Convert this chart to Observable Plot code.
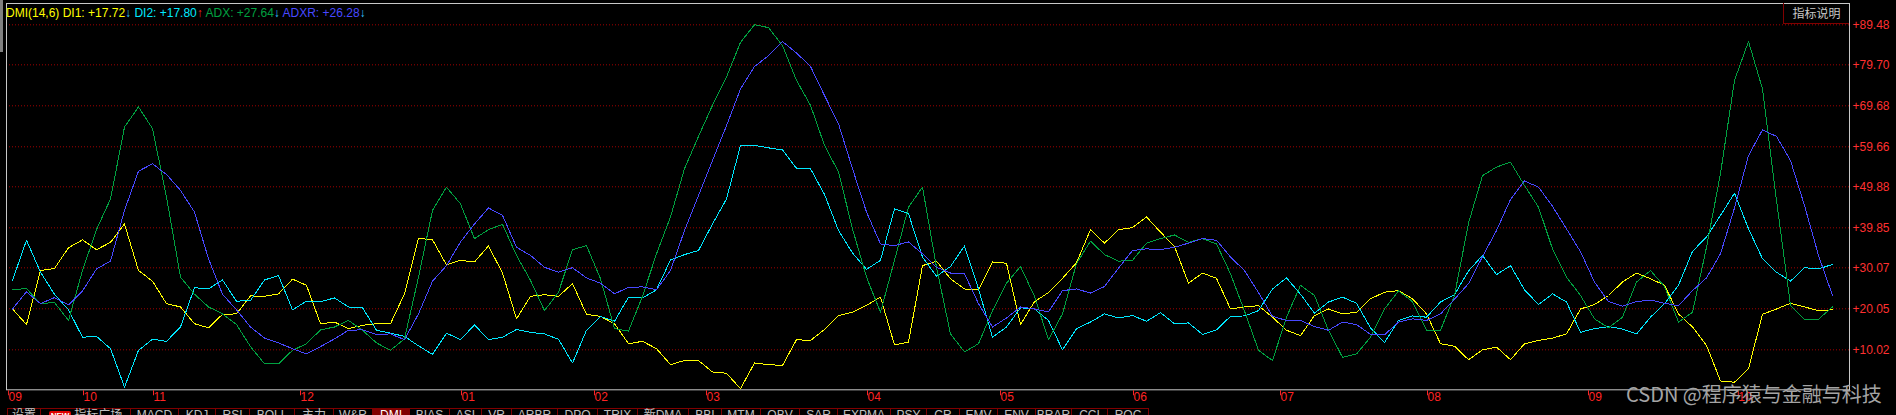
<!DOCTYPE html>
<html><head><meta charset="utf-8">
<script src="https://cdn.jsdelivr.net/npm/d3@7"></script>
<script src="https://cdn.jsdelivr.net/npm/@observablehq/plot@0.6"></script>
<style>
html,body{margin:0;padding:0;background:#000;overflow:hidden;}
#wrap{position:relative;width:1896px;height:415px;overflow:hidden;background:#000;font-family:"Liberation Sans",Arial,sans-serif;}
#chart{position:absolute;left:0;top:0;}
#header{position:absolute;left:6px;top:6px;font-size:12px;line-height:14px;white-space:pre;}
#btn{position:absolute;left:1783px;top:3px;width:65px;height:20px;border-left:1px solid #800000;border-bottom:1px solid #800000;color:#c8c8c8;font:12px/20px "Noto Sans CJK SC",sans-serif;text-align:center;}
#grip{position:absolute;left:0;top:0;width:3px;height:52px;background:#808080;}
#tabs{position:absolute;left:0;top:408px;height:20px;}
.tab{position:absolute;top:0;height:20px;box-sizing:border-box;border-top:1px solid #800000;border-right:1px solid #800000;color:#c0c0c0;font:12px/13px "Liberation Sans","Noto Sans CJK SC",sans-serif;text-align:center;white-space:nowrap;}
.tab.first{border-left:1px solid #800000;}
.tab.sel{background:#800000;color:#ffffff;}
.new{display:inline-block;background:#e00000;color:#fff;font:bold 8px/10px "Liberation Sans",sans-serif;padding:0 2px;border-radius:2px;margin-right:3px;vertical-align:1px;}
#wm{position:absolute;left:1626px;top:383px;font:20px/22px "Noto Sans CJK SC",sans-serif;color:#a4a4a4;white-space:nowrap;}
</style></head>
<body><div id="wrap"><div id="chart"></div><div id="grip"></div><div id="header"></div><div id="btn">指标说明</div><div id="tabs"></div><div id="wm">CSDN @程序猿与金融与科技</div></div>
<script>
// DMI(14,6) series, one value every second trading day
const DI1 = [20.0,16.2,29.4,29.9,35.0,36.9,34.5,36.3,40.8,29.4,26.8,21.3,20.5,16.4,15.4,18.7,18.8,23.2,23.1,23.7,27.3,25.8,16.4,16.8,15.2,16.0,16.4,16.4,23.7,37.3,36.9,30.8,31.9,31.5,35.4,
28.8,17.6,23.1,23.5,23.1,26.2,18.7,18.2,16.4,11.5,12.1,10.3,6.4,7.4,7.4,4.6,4.3,0.5,6.8,6.4,6.2,12.5,12.3,15.0,18.4,19.2,20.9,22.9,11.2,11.9,30.6,31.7,27.4,24.9,24.7,31.5,
31.2,16.2,21.8,24.0,27.5,31.3,39.4,36.1,39.4,39.9,42.5,38.8,35.3,26.3,28.8,27.5,20.0,20.5,20.8,18.0,14.8,13.5,18.4,20.0,18.8,19.2,22.5,24.1,24.5,22.5,18.8,11.5,10.9,7.6,10.0,10.7,
7.6,11.5,12.3,12.9,13.9,20.0,21.1,23.3,26.6,28.8,27.4,25.8,18.8,15.6,11.1,2.4,2.1,5.4,18.7,20.0,21.4,20.5,19.6,19.8];
const DI2 = [27.0,36.8,29.0,23.6,19.8,13.1,13.3,10.3,0.9,9.9,12.6,12.1,15.6,25.2,24.9,27.1,21.9,22.1,27.1,28.2,19.8,21.9,21.8,22.7,20.5,20.3,14.8,14.1,13.3,11.0,8.9,14.1,12.5,16.1,12.5,
13.1,15.0,14.3,13.9,12.6,6.8,14.8,18.2,17.0,22.9,22.7,24.7,32.0,33.3,34.3,40.8,46.9,60.0,60.0,59.4,58.9,54.4,54.3,48.0,39.2,33.7,29.7,31.9,44.5,43.3,32.7,28.0,30.4,35.4,24.9,13.1,
15.6,20.3,20.0,17.2,10.0,15.2,16.8,18.8,17.8,18.4,17.0,19.1,16.4,16.6,13.8,14.9,18.2,18.3,19.6,24.9,27.6,23.6,19.0,21.7,22.9,21.4,15.4,11.8,17.2,18.3,18.0,21.7,23.5,29.3,33.1,28.4,
30.6,24.7,21.1,23.7,21.7,14.3,15.2,15.7,15.1,13.9,18.0,21.3,25.8,34.1,37.6,42.9,48.3,39.6,32.3,29.0,26.8,30.1,29.8,30.9];
const ADX = [24.7,25.0,21.3,21.6,17.2,29.4,39.4,46.9,64.5,69.4,64.1,47.4,27.8,23.6,20.5,18.8,16.2,10.8,6.6,6.6,9.9,11.5,14.9,15.6,17.2,14.8,11.7,9.9,12.7,27.8,44.1,49.8,45.7,37.2,39.4,
40.7,33.1,27.0,19.6,24.1,34.5,35.5,27.4,15.2,14.6,23.1,33.5,42.5,54.3,62.2,69.8,76.7,85.2,89.5,88.8,84.4,75.9,69.8,60.0,53.5,39.6,27.8,19.2,31.9,44.9,49.8,30.2,13.9,9.5,11.5,19.6,
26.3,30.4,23.1,12.5,18.8,31.1,36.6,33.3,31.7,31.9,36.1,37.2,38.1,36.3,37.2,35.9,28.6,19.5,9.9,7.4,18.0,25.8,23.3,14.8,8.2,9.0,13.1,20.0,24.4,21.8,14.8,14.8,23.3,41.0,52.6,54.7,
55.9,50.2,44.9,34.7,27.8,23.3,17.6,15.4,18.0,26.6,29.4,25.5,16.8,19.2,35.1,53.1,75.9,85.4,73.8,46.5,20.9,17.4,17.5,20.5];
const ADXR = [20.0,24.2,21.3,22.8,21.0,24.4,29.8,31.7,44.1,53.7,55.5,52.9,49.0,43.7,32.3,23.6,19.8,15.6,12.9,11.7,10.3,9.0,10.8,12.7,14.8,14.9,13.8,13.9,12.5,18.8,26.8,30.6,36.4,40.8,44.7,
42.9,35.1,33.1,30.2,29.0,30.1,27.6,26.3,23.7,25.3,25.4,24.7,29.4,39.2,47.7,56.3,64.8,73.8,79.3,81.9,85.4,82.6,79.3,72.2,65.3,54.3,43.7,35.9,35.5,36.4,33.5,30.2,28.8,28.6,21.3,15.6,
17.8,20.5,20.0,19.3,24.5,24.9,23.9,25.5,30.0,34.3,34.7,34.5,35.1,36.1,37.2,36.8,32.7,29.4,24.0,18.2,17.2,17.2,15.7,14.8,16.8,16.2,13.8,13.7,16.8,17.6,17.2,18.8,22.4,26.2,32.8,39.2,
46.8,51.3,49.8,45.1,39.6,34.0,26.6,21.8,20.7,21.8,22.2,21.4,20.8,24.5,27.6,33.5,44.7,57.5,63.8,62.2,56.3,45.3,33.1,23.3];

// right axis ticks
const yTicks = [10.02, 20.05, 30.07, 39.85, 49.88, 59.66, 69.68, 79.70, 89.48];
// month boundaries (in sample-index units) and their labels
const monthPos = [-0.35, 5, 10, 20.5, 32, 41.5, 49.5, 61, 70.5, 80, 90.5, 101, 112.5, 123.2];
const monthLabels = ["09","10","11","12","01","02","03","04","05","06","07","08","09","10"];

// header legend
const legendNames = ["DMI(14,6) DI1", "DI2", "ADX", "ADXR"];
const legendValues = [17.72, 17.80, 27.64, 26.28];
const legendArrows = ["↓", "↑", "↓", "↓"];

// bottom indicator tabs
const tabLabels = ["设置","指标广场","MACD","KDJ","RSI","BOLL","主力","W&R","DMI","BIAS","ASI","VR","ARBR","DPO","TRIX","新DMA","BBI","MTM","OBV","SAR","EXPMA","PSY","CR","EMV","ENV","BRAR","CCI","ROC"];
const tabEdges = [7,41,131,179,216,250,295,334,373,410,450,482,512,558,598,638,689,722,761,800,838,891,927,960,998,1036,1072,1108,1149];
const selectedTab = "DMI";

const colors = {DI1: "#ffff00", DI2: "#00e8ff", ADX: "#00a040", ADXR: "#4848ff"};
const arrowColors = {"↓": "#33c4ff", "↑": "#ff2020"};

const W = 1896, H = 415;
const step = 14, x0 = 12;             // sample spacing on screen
const pLeft = 6, pRight = 1849, pTop = 3, zeroY = 390.3, pxPerUnit = 4.09;
const idx = (d, i) => i;
const monthMap = new Map(monthPos.map((p, i) => [p, monthLabels[i]]));

const chart = Plot.plot({
  width: W, height: H,
  marginLeft: pLeft, marginRight: W - pRight, marginTop: pTop, marginBottom: H - zeroY,
  x: {domain: [(pLeft - x0) / step, (pRight - x0) / step], axis: null},
  y: {domain: [0, (zeroY - pTop) / pxPerUnit], axis: null},
  style: {background: "#000", color: "#c0c0c0", fontFamily: "'Liberation Sans', Arial, sans-serif", fontSize: "12px"},
  marks: [
    Plot.ruleY(yTicks, {stroke: "#a00000", strokeDasharray: "1,2"}),
    Plot.line(DI1, {x: idx, y: d => d, stroke: colors.DI1, strokeWidth: 1, shapeRendering: "crispEdges"}),
    Plot.line(DI2, {x: idx, y: d => d, stroke: colors.DI2, strokeWidth: 1, shapeRendering: "crispEdges"}),
    Plot.line(ADX, {x: idx, y: d => d, stroke: colors.ADX, strokeWidth: 1, shapeRendering: "crispEdges"}),
    Plot.line(ADXR, {x: idx, y: d => d, stroke: colors.ADXR, strokeWidth: 1, shapeRendering: "crispEdges"}),
    Plot.frame({stroke: "#c8c8c8", insetBottom: 1}),
    Plot.axisY({anchor: "right", ticks: yTicks, tickSize: 0, tickPadding: 3, tickFormat: d => "+" + d.toFixed(2), color: "#ff3030", fontSize: 12, label: null}),
    Plot.axisX({anchor: "bottom", ticks: monthPos, tickSize: 5, tickPadding: -3, tickFormat: d => monthMap.get(d), textAnchor: "start", dx: 1, color: "#ff2424", fontSize: 12, label: null})
  ]
});
document.getElementById("chart").appendChild(chart);

// header
const header = document.getElementById("header");
const keys = ["DI1", "DI2", "ADX", "ADXR"];
legendNames.forEach((n, i) => {
  const s = document.createElement("span");
  s.style.color = colors[keys[i]];
  s.textContent = n + ": +" + legendValues[i].toFixed(2);
  header.appendChild(s);
  const a = document.createElement("span");
  a.style.color = arrowColors[legendArrows[i]];
  a.textContent = legendArrows[i];
  header.appendChild(a);
  if (i < legendNames.length - 1) header.appendChild(document.createTextNode(" "));
});

// tabs
const tabs = document.getElementById("tabs");
tabLabels.forEach((t, i) => {
  const d = document.createElement("div");
  d.className = "tab" + (i === 0 ? " first" : "") + (t === selectedTab ? " sel" : "");
  d.style.left = tabEdges[i] + "px";
  d.style.width = (tabEdges[i + 1] - tabEdges[i]) + "px";
  if (t === "指标广场") {
    const b = document.createElement("span");
    b.className = "new"; b.textContent = "NEW";
    d.appendChild(b);
    d.appendChild(document.createTextNode(t));
  } else d.textContent = t;
  tabs.appendChild(d);
});
</script>
</body></html>
